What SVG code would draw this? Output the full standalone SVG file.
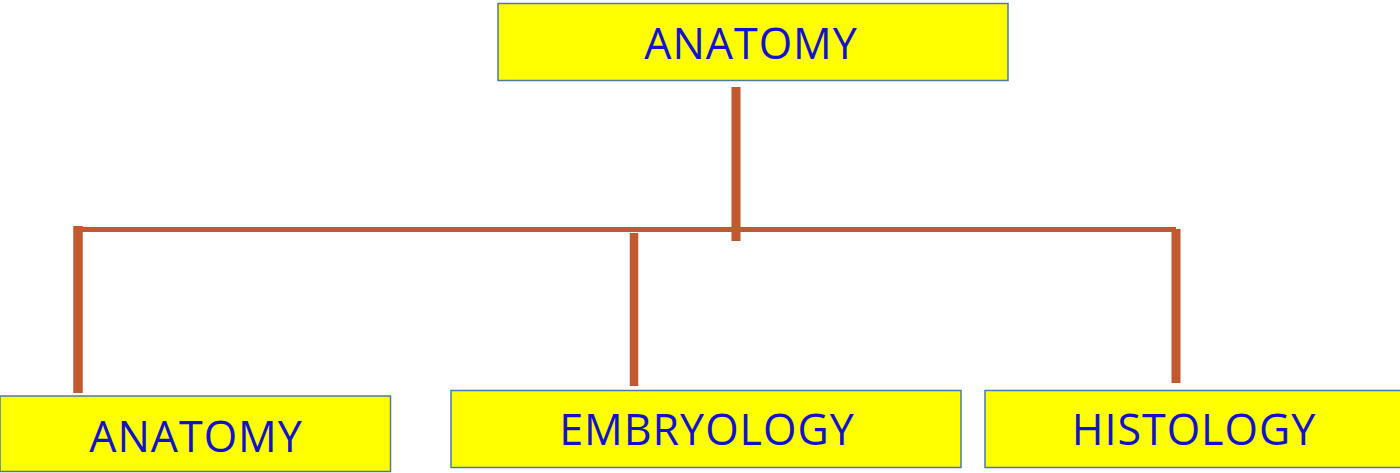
<svg xmlns="http://www.w3.org/2000/svg" width="1400" height="473" viewBox="0 0 1400 473">
<style>
.box{fill:#ffff00;stroke:#4a7ba7;stroke-width:1.5}
.lbl{font-family:"Open Sans","Liberation Sans",sans-serif;font-size:43px;letter-spacing:1px;fill:#1212cc;text-anchor:middle}
.c{stroke:#c0592f;fill:none}
</style>
<rect width="1400" height="473" fill="#ffffff"/>
<g id="connectors">
<line class="c" x1="736" y1="87" x2="736" y2="241" stroke-width="9"/>
<line class="c" x1="74" y1="229.5" x2="1176" y2="229.5" stroke-width="5"/>
<line class="c" x1="78" y1="226" x2="78" y2="393" stroke-width="9.5"/>
<line class="c" x1="634" y1="233" x2="634" y2="386" stroke-width="8.5"/>
<line class="c" x1="1176" y1="229" x2="1176" y2="383" stroke-width="9"/>
</g>
<g id="top">
<rect class="box" x="498" y="3.5" width="510" height="77"/>
<text class="lbl" x="751" y="59">ANATOMY</text>
</g>
<g id="anatomy">
<rect class="box" x="0" y="396" width="390.5" height="75.5"/>
<text class="lbl" x="196" y="452">ANATOMY</text>
</g>
<g id="embryology">
<rect class="box" x="451" y="390.5" width="510" height="77"/>
<text class="lbl" x="707" y="445">EMBRYOLOGY</text>
</g>
<g id="histology">
<rect class="box" x="985" y="390.5" width="416" height="77"/>
<text class="lbl" x="1194" y="445">HISTOLOGY</text>
</g>
</svg>
